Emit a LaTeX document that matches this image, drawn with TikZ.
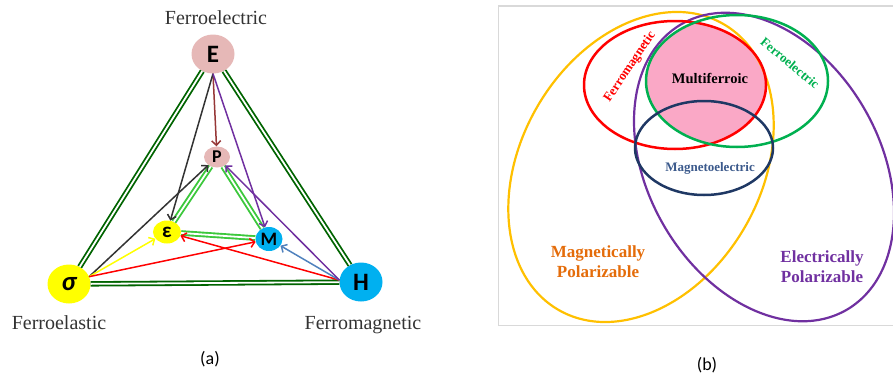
\documentclass[tikz,border=0pt]{standalone}
\usepackage{fontspec}
\setmainfont{Liberation Serif}
\newfontfamily\calibri{Carlito}
\usetikzlibrary{arrows.meta, shapes.geometric}

\definecolor{rosefill}{RGB}{230,184,183}
\definecolor{cyanfill}{RGB}{0,176,240}
\definecolor{yellowfill}{RGB}{255,255,0}
\definecolor{darkbond}{RGB}{0,100,0}
\definecolor{limebond}{RGB}{60,200,60}
\definecolor{brownarrow}{RGB}{150,55,55}
\definecolor{purplearrow}{RGB}{112,48,160}
\definecolor{bluearrow}{RGB}{79,129,189}
\definecolor{goldring}{RGB}{255,192,0}
\definecolor{greenring}{RGB}{0,176,80}
\definecolor{navyring}{RGB}{31,56,100}
\definecolor{mfpink}{RGB}{250,168,198}
\definecolor{meblue}{RGB}{60,90,140}
\definecolor{orangetext}{RGB}{228,108,10}

\begin{document}
\begin{tikzpicture}[x=1pt, y=1pt,
    bignode/.style={ellipse, inner sep=0pt, minimum width=43pt, minimum height=39pt},
    smallnode/.style={ellipse, inner sep=0pt, minimum width=27pt, minimum height=22pt},
    letter/.style={font=\calibri\bfseries\fontsize{#1}{#1}\selectfont},
    outerbond/.style={draw=darkbond, double=white, line width=1.8pt, double distance=1.8pt},
    innerbond/.style={draw=limebond, double=white, line width=1.9pt, double distance=1.8pt},
    coupling/.style={line width=1.5pt, -{Straight Barb[length=4.5pt,width=9pt]}},
    fname/.style={anchor=base, text=black!80, font=\fontsize{20}{20}\selectfont},
    setname/.style={font=\bfseries\fontsize{#1}{#1}\selectfont},
    polar/.style={align=center, font=\bfseries\fontsize{17}{20}\selectfont},
    caption/.style={font=\calibri\fontsize{18}{18}\selectfont}
]
    \useasboundingbox (0,0) rectangle (893,376);

    % 1. Ferroic order parameters (a)
    \node[bignode, fill=rosefill, letter=25] (E) at (213,322) {E};
    \node[bignode, fill=yellowfill, font=\calibri\bfseries\itshape\fontsize{27}{27}\selectfont] (sig) at (69,92) {σ};
    \node[bignode, fill=cyanfill, letter=25] (H) at (361,94) {H};
    \node[smallnode, fill=rosefill, letter=18, minimum width=26pt, minimum height=21pt] (P) at (217,219) {P};
    \node[smallnode, fill=yellowfill, letter=21, minimum width=28pt, minimum height=23pt] (eps) at (167,144) {ε};
    \node[smallnode, fill=cyanfill, letter=19, minimum height=24pt] (M) at (269,137) {M};

    % 2. Outer and inner triangles
    \draw[outerbond] (E) -- (sig);
    \draw[outerbond] (sig) -- (H);
    \draw[outerbond] (H) -- (E);
    \draw[innerbond] (P) -- (eps);
    \draw[innerbond] (eps) -- (M);
    \draw[innerbond] (M) -- (P);

    % 3. Couplings
    \draw[coupling, brownarrow] (E.south) -- (P);
    \draw[coupling, black!80] (E.south) -- (eps);
    \draw[coupling, purplearrow] (E.south) -- (M);
    \draw[coupling, black!80] (sig.20) -- (P);
    \draw[coupling, yellowfill] (sig.20) -- (eps);
    \draw[coupling, red] (sig.20) -- (M);
    \draw[coupling, red] (H.175) -- (eps);
    \draw[coupling, bluearrow] (H.175) -- (M);
    \draw[coupling, purplearrow] (H.175) -- (P);

    % 4. Labels (a)
    \node[fname] (felec) at (216,352) {Ferroelectric};
    \node[fname] (felas) at (59,47) {Ferroelastic};
    \node[fname] (fmag) at (363,47) {Ferromagnetic};
    \node[caption] (capa) at (210,17) {(a)};

    % 5. Frame (b)
    \draw[black!15, line width=1pt] (893,370) -- (498,370) -- (498,51) -- (893,51);

    % 6. Multiferroic overlap
    \begin{scope}
        \clip (675,291) ellipse (91 and 64);
        \fill[mfpink] (737,295) ellipse (91 and 66);
    \end{scope}

    % 7. Sets
    \draw[goldring, line width=2.2pt, rotate around={-30:(641,209)}] (641,209) ellipse (120 and 165);
    \draw[purplearrow, line width=2.2pt, rotate around={30:(764,209)}] (764,209) ellipse (116 and 165);
    \draw[red, line width=2.5pt] (675,291) ellipse (91 and 64);
    \draw[greenring, line width=2.5pt] (737,295) ellipse (91 and 66);
    \draw[navyring, line width=2.5pt] (704,228) ellipse (69 and 47);

    % 8. Labels (b)
    \node[setname=14.5, anchor=base] (multi) at (710,293) {Multiferroic};
    \node[setname=13, red, rotate=56] (fmset) at (630,309) {Ferromagnetic};
    \node[setname=13, greenring, rotate=-40] (feset) at (790,313) {Ferroelectric};
    \node[setname=13, meblue, anchor=base] (meset) at (710,205) {Magnetoelectric};
    \node[polar, orangetext] (magpol) at (598,114) {Magnetically\\Polarizable};
    \node[polar, purplearrow] (elpol) at (822,109) {Electrically\\Polarizable};
    \node[caption] (capb) at (707,11) {(b)};
\end{tikzpicture}
\end{document}
